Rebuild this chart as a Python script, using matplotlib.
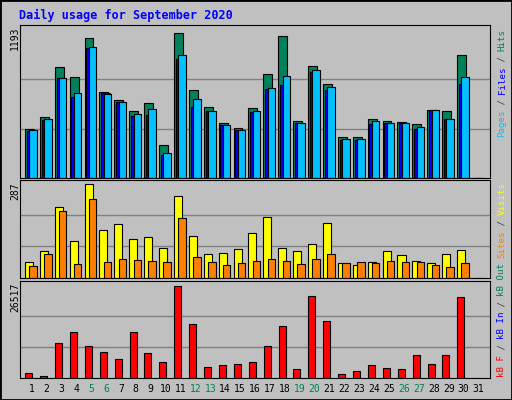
import matplotlib
matplotlib.use("Agg")
import matplotlib.pyplot as plt
import numpy as np

days = np.arange(1, 32)
weekend = [5, 6, 12, 13, 19, 20, 26, 27]

hits = [392, 496, 894, 814, 1127, 697, 626, 538, 602, 265, 1172, 713, 570, 443, 403, 562, 838, 1148, 459, 902, 759, 329, 329, 480, 456, 448, 432, 551, 538, 989, 0]
files = [376, 472, 806, 655, 1047, 684, 610, 499, 507, 186, 957, 570, 538, 427, 387, 530, 719, 750, 443, 854, 713, 305, 305, 432, 443, 443, 392, 546, 480, 758, 0]
pages = [384, 480, 806, 687, 1055, 681, 610, 520, 559, 202, 989, 634, 538, 427, 387, 538, 727, 822, 443, 870, 737, 313, 313, 464, 443, 443, 408, 546, 480, 814, 0]
visits = [47, 81, 216, 112, 284, 146, 164, 118, 124, 90, 250, 127, 72, 75, 87, 136, 185, 90, 81, 102, 167, 44, 38, 47, 81, 69, 53, 44, 72, 84, 0]
sites = [35, 72, 204, 41, 238, 47, 59, 56, 53, 47, 182, 63, 47, 38, 44, 53, 59, 53, 41, 59, 72, 44, 47, 44, 53, 50, 47, 38, 32, 44, 0]
kbf = [1515, 663, 10038, 12879, 9186, 7481, 5493, 12879, 7197, 4640, 25947, 15152, 3220, 3788, 4072, 4640, 9186, 14584, 2652, 23106, 16004, 1231, 2083, 3788, 2936, 2652, 6629, 4072, 6629, 22822, 0]

max_top, max_mid, max_bot = 1193, 287, 26517

W, H = 512, 400
fig = plt.figure(figsize=(W / 100, H / 100), dpi=100)
fig.patch.set_facecolor("#C0C0C0")
fig.patches.append(plt.Rectangle((0, 0), 1, 1, transform=fig.transFigure,
                                 fill=False, edgecolor="black", lw=2))

def px_axes(x0, y0, x1, y1):
    return fig.add_axes([x0 / W, 1 - y1 / H, (x1 - x0) / W, (y1 - y0) / H])

def setup(ax, top):
    ax.set_facecolor("#C0C0C0")
    ax.set_xlim(0.13, 31.67)
    ax.set_ylim(0, top * 1.035)
    for f in (1 / 3, 2 / 3):
        ax.axhline(top * f, color="#808080", lw=1, zorder=0)
    ax.set_xticks([])
    ax.set_yticks([])
    for s in ax.spines.values():
        s.set_color("black")

ec = dict(edgecolor="black", linewidth=0.8, align="edge")

ax1 = px_axes(20, 25, 490, 178)
setup(ax1, max_top)
ax1.bar(days - 0.54, hits, 0.6, color="#00805C", **ec)
ax1.bar(days - 0.42, files, 0.6, color="#0000FF", **ec)
ax1.bar(days - 0.25, pages, 0.5, color="#00C0FF", **ec)

ax2 = px_axes(20, 180, 490, 278)
setup(ax2, max_mid)
ax2.bar(days - 0.54, visits, 0.54, color="#FFFF00", **ec)
ax2.bar(days - 0.25, sites, 0.5, color="#FF8000", **ec)

ax3 = px_axes(20, 281, 490, 378)
setup(ax3, max_bot)
ax3.bar(days - 0.52, kbf, 0.47, color="#FF0000", **ec)

fig.text(19 / W, 1 - 15 / H, "Daily usage for September 2020", color="#0000FF",
         family="DejaVu Sans Mono", weight="bold", fontsize=8.5, va="center")

for val, ytop in [(max_top, 27), (max_mid, 182), (max_bot, 283)]:
    fig.text(15 / W, 1 - ytop / H, str(val), rotation=90, ha="center", va="top",
             family="DejaVu Sans Mono", fontsize=7)

for d in days:
    c = "#00805F" if d in weekend else "black"
    x = ax3.transData.transform((d - 0.1, 0))[0] / W
    fig.text(x, 1 - 389 / H, str(d), color=c, ha="center", va="center",
             family="DejaVu Sans Mono", fontsize=7)

def side_label(parts, ystart):
    y = ystart
    step = 5.4
    for txt, col in parts:
        fig.text(502 / W, 1 - y / H, txt, color=col, rotation=90,
                 rotation_mode="anchor", ha="left", va="center",
                 family="DejaVu Sans Mono", fontsize=6.6)
        y -= step * len(txt)

g = "#404040"
side_label([("Pages", "#00C0FF"), (" / ", g), ("Files", "#0000FF"), (" / ", g), ("Hits", "#00805C")], 137)
side_label([("Sites", "#FF8000"), (" / ", g), ("Visits", "#FFFF00")], 258)
side_label([("kB F", "#FF0000"), (" / ", g), ("kB In", "#0000FF"), (" / ", g), ("kB Out", "#00805C")], 377)

fig.savefig("out.png", dpi=100, facecolor=fig.get_facecolor())
